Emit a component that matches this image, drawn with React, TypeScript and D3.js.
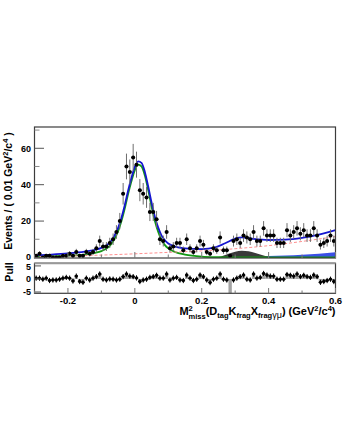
import * as d3 from 'd3';

const W = 343;
const H = 444;

// data histogram: 90 bins of 0.01 from -0.3 to 0.6
const binCenters = d3.range(90).map((i) => -0.295 + 0.01 * i);
const counts = [
  1, 2, 0, 1, 1, 0, 0, 0, 1, 1,
  2, 1, 3, 1, 1, 3, 2, 3, 5, 9,
  6, 6, 8, 10, 14, 20, 35, 50, 47, 55,
  51, 37, 35, 33, 25, 25, 21, 10, 9, 14,
  5, 6, 8, 8, 4, 10, 5, 3, 5, 9,
  7, 3, 2, 5, 4, 11, 4, 4, 1, 9,
  10, 8, 12, 11, 10, 14, 9, 9, 16, 12,
  12, 12, 8, 8, 8, 15, 12, 14, 16, 13,
  15, 12, 12, 16, 12, 7, 8, 9, 12, 9,
];
const pulls = [
  0.3, 0.3, -0.1, 0.3, -0.6, -0.4, -0.4, -0.1, 0.3, 0.6,
  0.3, -0.8, 1.1, -1.0, -1.3, 0.3, -0.4, 0.3, 0.9, 1.9,
  -0.1, -0.4, 0.0, -0.1, -0.4, -0.1, 0.9, 1.9, 1.1, 0.9,
  0.4, -1.0, -0.4, -0.1, 0.6, 0.9, 1.4, 0.3, 0.3, 1.9,
  -0.4, 0.3, 0.6, -0.4, -0.6, 1.5, 0.3, -0.6, -0.1, 1.5,
  0.9, -0.4, -1.4, -0.1, 0.3, 1.9, -0.1, -0.4, -6.5, -0.4,
  0.3, 0.9, 1.5, -0.1, -0.4, 1.9, 0.3, 0.6, 2.1, 1.5,
  1.1, 1.1, -0.1, -0.1, -0.1, 1.7, 1.4, 1.1, 1.9, 0.9,
  1.4, 0.9, 0.6, 1.5, 0.9, -1.3, -1.0, -0.6, -0.1, -1.0,
];

// fit curves
const totalX = [-0.3, -0.25, -0.2, -0.15, -0.12, -0.1, -0.08, -0.07, -0.06, -0.05, -0.04, -0.03, -0.02, -0.01, 0.0, 0.01, 0.02, 0.03, 0.04, 0.05, 0.06, 0.07, 0.08, 0.09, 0.1, 0.12, 0.15, 0.2, 0.24, 0.27, 0.3, 0.32, 0.35, 0.4, 0.45, 0.5, 0.55, 0.6];
const totalY = [1.2, 1.6, 2.2, 3.2, 4.2, 5.3, 7.3, 9.3, 12.3, 16.3, 21.8, 28.8, 36.8, 43.8, 49.8, 52.8, 52, 47, 39, 30.2, 22.3, 16.4, 12, 9.4, 7.7, 6, 5, 4.6, 5.5, 7.8, 10.3, 11, 10.3, 9.6, 9.8, 10.8, 12.5, 15];

const sigX = [-0.3, -0.25, -0.2, -0.15, -0.12, -0.1, -0.08, -0.07, -0.06, -0.05, -0.04, -0.03, -0.02, -0.01, 0.0, 0.01, 0.02, 0.03, 0.04, 0.05, 0.06, 0.07, 0.08, 0.09, 0.1, 0.12, 0.15, 0.2, 0.25, 0.3, 0.6];
const sigY = [0.5, 0.7, 1.0, 1.6, 2.5, 3.5, 5.5, 7.5, 10.5, 14.5, 20, 27, 35, 42, 48, 51, 50, 45, 37, 28, 20, 14, 9.5, 6.8, 5, 3, 1.6, 0.5, 0.15, 0.03, 0];

const bkgX = [-0.3, -0.2, -0.1, 0.0, 0.1, 0.2, 0.3, 0.4, 0.5, 0.6];
const bkgY = [0.4, 0.8, 1.3, 2.0, 2.8, 3.6, 4.8, 6.5, 8.8, 11.5];

const peakX = [0.24, 0.26, 0.28, 0.3, 0.32, 0.34, 0.36, 0.38, 0.4, 0.42];
const peakY = [0, 0.6, 2.0, 3.2, 3.7, 3.4, 2.5, 1.3, 0.4, 0];

const tailX = [0.25, 0.3, 0.35, 0.4, 0.45, 0.5, 0.55, 0.6];
const tailY = [0, 0.25, 0.5, 0.8, 1.1, 1.5, 2.1, 2.9];

const xTicks = [-0.2, 0, 0.2, 0.4, 0.6];
const xMinor = d3.range(-0.3, 0.601, 0.1);
const yTicks = [0, 20, 40, 60];
const yMinor = [10, 30, 50, 70];
const pullTicks = [-5, 0, 5];

const FONT = '"Liberation Sans", Arial, Helvetica, sans-serif';

export default function App() {
  const x = d3.scaleLinear().domain([-0.3, 0.6]).range([34.5, 335.5]);
  const y = d3.scaleLinear().domain([-0.3, 71.7]).range([258, 127]);
  const yp = d3.scaleLinear().domain([-5.5, 6]).range([293.3, 263.3]);

  const line = (xs: number[], ys: number[]) =>
    d3.line<number>().x((_, i) => x(xs[i])).y((d) => y(d)).curve(d3.curveMonotoneX)(ys) || '';
  const area = (xs: number[], ys: number[]) =>
    d3.area<number>().x((_, i) => x(xs[i])).y0(y(0)).y1((d) => y(d)).curve(d3.curveMonotoneX)(ys) || '';

  const half = (x(0.01) - x(0)) / 2;

  return (
    <svg width={W} height={H} style={{ position: 'absolute', left: 0, top: 0, background: '#fff' }} fontFamily={FONT}>
      <defs>
        <clipPath id="mainClip"><rect x={34.5} y={127} width={301} height={131} /></clipPath>
        <clipPath id="pullClip"><rect x={34.5} y={263.3} width={301} height={30} /></clipPath>
      </defs>

      {/* main panel */}
      <g clipPath="url(#mainClip)">
        <path d={area(tailX, tailY)} fill="#3b4fe6" />
        <path d={area(peakX, peakY)} fill="#3a3a3a" />
        <path d={line(sigX, sigY)} fill="none" stroke="#129a12" strokeWidth={1.8} />
        <path d={line(bkgX, bkgY)} fill="none" stroke="#ff8f8f" strokeWidth={1} strokeDasharray="3,2" />
        <path d={line(totalX, totalY)} fill="none" stroke="#1515d0" strokeWidth={1.8} />
        {binCenters.map((c, i) => {
          const n = counts[i];
          const e = n > 0 ? Math.sqrt(n) : 1.1;
          return (
            <g key={i}>
              <line x1={x(c)} x2={x(c)} y1={y(n + e)} y2={y(Math.max(n - e, 0))} stroke="#6e6e6e" strokeWidth={1} />
              <line x1={x(c) - half} x2={x(c) + half} y1={y(n)} y2={y(n)} stroke="#000" strokeWidth={1} />
              <circle cx={x(c)} cy={y(n)} r={2} fill="#000" />
            </g>
          );
        })}
      </g>
      <rect x={34.5} y={127} width={301} height={131} fill="none" stroke="#3c3c3c" strokeWidth={1.2} />
      {yTicks.map((t) => (
        <g key={t}>
          <line x1={34.5} x2={44} y1={y(t)} y2={y(t)} stroke="#555" strokeWidth={1} />
          <text x={31} y={y(t) + (t === 0 ? 2.2 : 3.3)} textAnchor="end" fontSize={9} fontWeight="bold">{t}</text>
        </g>
      ))}
      {yMinor.map((t) => (
        <line key={t} x1={34.5} x2={39.5} y1={y(t)} y2={y(t)} stroke="#888" strokeWidth={1} />
      ))}
      {xMinor.map((t, i) => (
        <line key={i} x1={x(t)} x2={x(t)} y1={258} y2={Math.abs(Math.round(t * 10) % 2) === 0 ? 252 : 254.5} stroke="#777" strokeWidth={1} />
      ))}
      <text transform={`translate(12,191) rotate(-90)`} textAnchor="middle" fontSize={10.5} fontWeight="bold">
        Events / ( 0.01 GeV<tspan dy={-4} fontSize={7.5}>2</tspan><tspan dy={4}>/c</tspan><tspan dy={-4} fontSize={7.5}>4</tspan><tspan dy={4}> )</tspan>
      </text>

      {/* pull panel */}
      <g clipPath="url(#pullClip)">
        {binCenters.map((c, i) => (
          <rect key={i} x={x(c) - half} width={half * 2}
            y={Math.min(yp(0), yp(pulls[i]))} height={Math.abs(yp(pulls[i]) - yp(0))} fill="#a3a3a3" />
        ))}
        {binCenters.map((c, i) => (
          <g key={i}>
            <line x1={x(c)} x2={x(c)} y1={yp(pulls[i] + 1)} y2={yp(pulls[i] - 1)} stroke="#000" strokeWidth={1} />
            <line x1={x(c) - half} x2={x(c) + half} y1={yp(pulls[i])} y2={yp(pulls[i])} stroke="#000" strokeWidth={1} />
            <circle cx={x(c)} cy={yp(pulls[i])} r={1.7} fill="#000" />
          </g>
        ))}
      </g>
      <rect x={34.5} y={263.3} width={301} height={30} fill="none" stroke="#3c3c3c" strokeWidth={1.2} />
      <line x1={34.5} x2={335.5} y1={263.3} y2={263.3} stroke="#999" strokeWidth={2} />
      {pullTicks.map((t) => (
        <g key={t}>
          <line x1={34.5} x2={41} y1={yp(t)} y2={yp(t)} stroke="#555" strokeWidth={1} />
          <text x={31} y={yp(t) + (t === 5 ? 4 : 3.2)} textAnchor="end" fontSize={9} fontWeight="bold">{t}</text>
        </g>
      ))}
      {xMinor.map((t, i) => (
        <line key={i} x1={x(t)} x2={x(t)} y1={293.3} y2={Math.abs(Math.round(t * 10) % 2) === 0 ? 288 : 290.5} stroke="#777" strokeWidth={1} />
      ))}
      {xTicks.map((t) => (
        <text key={t} x={x(t)} y={303.5} textAnchor="middle" fontSize={9.5} fontWeight="bold">{t}</text>
      ))}
      <text transform={`translate(13,272) rotate(-90)`} textAnchor="middle" fontSize={10.5} fontWeight="bold">Pull</text>

      <text x={335.5} y={315} textAnchor="end" fontSize={11} fontWeight="bold">
        M<tspan fontSize={7.5} dy={-4.5}>2</tspan><tspan fontSize={7.5} dx={-4.2} dy={8}>miss</tspan>
        <tspan dy={-3.5}>(D</tspan><tspan fontSize={7.5} dy={3}>tag</tspan>
        <tspan dy={-3}>K</tspan><tspan fontSize={7.5} dy={3}>frag</tspan>
        <tspan dy={-3}>X</tspan><tspan fontSize={7.5} dy={3}>frag</tspan>
        <tspan fontWeight="normal" fontSize={9}>γμ</tspan>
        <tspan dy={-3}>) (GeV</tspan><tspan fontSize={7.5} dy={-4}>2</tspan><tspan dy={4}>/c</tspan><tspan fontSize={7.5} dy={-4}>4</tspan><tspan dy={4}>)</tspan>
      </text>
    </svg>
  );
}
